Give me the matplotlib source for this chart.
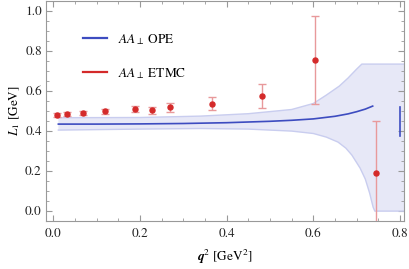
import numpy as np
import matplotlib.pyplot as plt
from matplotlib.ticker import MultipleLocator

plt.rcParams['font.family'] = 'STIXGeneral'
plt.rcParams['mathtext.fontset'] = 'stix'

# ETMC lattice points
q2_etmc = [0.009, 0.032, 0.069, 0.119, 0.189, 0.228, 0.269, 0.366, 0.481, 0.604, 0.745]
L1_etmc = [0.480, 0.485, 0.490, 0.498, 0.510, 0.503, 0.518, 0.537, 0.575, 0.755, 0.193]
err_etmc = [0.010, 0.012, 0.012, 0.013, 0.017, 0.017, 0.023, 0.034, 0.062, 0.220, 0.257]

# OPE central curve
q2_ope = [0.0115, 0.1, 0.2, 0.3, 0.4, 0.5, 0.55, 0.6, 0.65, 0.68, 0.70, 0.72, 0.737]
L1_ope = [0.435, 0.435, 0.436, 0.438, 0.442, 0.449, 0.454, 0.461, 0.474, 0.486, 0.497, 0.510, 0.525]

# OPE band edges
q2_up = [0.0115, 0.2, 0.34, 0.45, 0.55, 0.6, 0.63, 0.66, 0.68, 0.70, 0.712, 0.81]
L1_up = [0.467, 0.468, 0.475, 0.487, 0.508, 0.538, 0.580, 0.625, 0.665, 0.710, 0.735, 0.735]
q2_lo = [0.0115, 0.2, 0.34, 0.45, 0.55, 0.6, 0.63, 0.657, 0.675, 0.689, 0.708, 0.72, 0.73, 0.738, 0.742, 0.81]
L1_lo = [0.405, 0.410, 0.413, 0.410, 0.400, 0.388, 0.370, 0.345, 0.315, 0.280, 0.215, 0.160, 0.090, 0.020, 0.0, 0.0]

# stray vertical piece of the OPE curve at the right edge
q2_tail = [0.799, 0.799]
L1_tail = [0.375, 0.52]

blue = '#3d4cc0'
red = '#d42a2a'

fig = plt.figure(figsize=(4.09, 2.69), dpi=100)
ax = fig.add_axes([0.1125, 0.178, 0.876, 0.818])

ax.fill(np.concatenate([q2_up, q2_lo[::-1]]), np.concatenate([L1_up, L1_lo[::-1]]),
        facecolor='#e7e8f7', edgecolor='none', zorder=1)
ax.plot(q2_up, L1_up, color='#c9cdef', lw=1.0, zorder=2)
ax.plot(q2_lo, L1_lo, color='#c9cdef', lw=1.0, zorder=2)
ax.plot(q2_ope, L1_ope, color=blue, lw=1.2, zorder=3)
ax.plot(q2_tail, L1_tail, color=blue, lw=1.2, zorder=3)

ax.errorbar(q2_etmc, L1_etmc, yerr=err_etmc, fmt='none', ecolor='#e8999b',
            elinewidth=1.0, capsize=3, capthick=1.0, zorder=4)
ax.plot(q2_etmc, L1_etmc, 'o', color=red, ms=3.6, zorder=5)

# legend handles
ax.plot([], [], color=blue, lw=1.6, label=r'$AA_\perp$ OPE')
ax.plot([], [], color=red, lw=1.6, label=r'$AA_\perp$ ETMC')
ax.legend(loc='upper left', bbox_to_anchor=(0.104, 0.86), frameon=False, fontsize=9.5,
          borderaxespad=0, borderpad=0, handlelength=1.8, handletextpad=0.8,
          labelspacing=1.45)

ax.set_xlim(-0.017, 0.81)
ax.set_ylim(-0.05, 1.05)
ax.xaxis.set_major_locator(MultipleLocator(0.2))
ax.xaxis.set_minor_locator(MultipleLocator(0.05))
ax.yaxis.set_major_locator(MultipleLocator(0.2))
ax.yaxis.set_minor_locator(MultipleLocator(0.05))
ax.xaxis.set_major_formatter(lambda v, p: f'{v:.1f}')
ax.yaxis.set_major_formatter(lambda v, p: f'{v:.1f}')
ax.tick_params(which='both', direction='in', top=True, right=True, color='#999999',
               labelsize=9.5, labelcolor='#222222', pad=3)
ax.tick_params(axis='x', which='major', pad=5)
ax.tick_params(which='major', length=4)
ax.tick_params(which='minor', length=2)
for s in ax.spines.values():
    s.set_color('#999999')

ax.set_xlabel(r'$\mathbfit{q}^2$ [GeV$^2$]', fontsize=9.5, labelpad=6)
ax.set_ylabel(r'$L_1$ [GeV]', fontsize=9.5, labelpad=2)

fig.savefig('out.png', dpi=100)
